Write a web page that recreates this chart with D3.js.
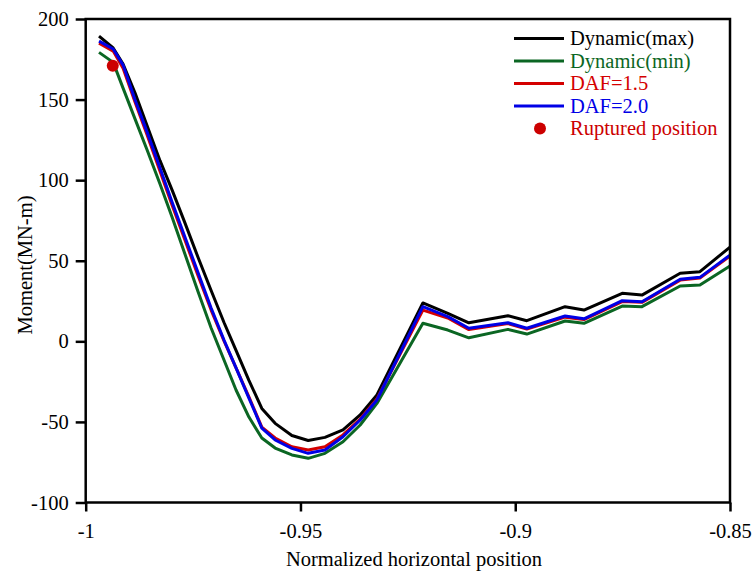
<!DOCTYPE html>
<html><head><meta charset="utf-8">
<script src="https://cdn.jsdelivr.net/npm/d3@7"></script>
<style>body{margin:0;background:#fff}svg{display:block}</style>
</head><body>
<svg id="c" width="755" height="574"></svg>
<script>
const positions = [-0.9969,-0.9936,-0.9913,-0.9885,-0.9857,-0.9827,-0.9799,-0.9769,-0.9739,-0.9708,-0.9678,-0.9650,-0.9620,-0.9590,-0.9559,-0.9520,-0.9482,-0.9443,-0.9401,-0.9361,-0.9322,-0.9215,-0.9157,-0.9108,-0.9017,-0.8973,-0.8884,-0.8840,-0.8751,-0.8705,-0.8616,-0.8570,-0.85];
const dynMax = [189.4,182.0,172.0,154.0,133.8,112.1,94.0,73.5,52.5,31.5,11.7,-5.6,-24.2,-41.6,-50.9,-58.4,-61.5,-59.6,-55.0,-45.7,-33.3,23.8,17.4,11.5,15.9,12.8,21.5,19.4,29.8,28.7,42.2,43.2,58.5];
const dynMin = [179.3,173.1,157.1,137.9,118.7,97.6,77.1,54.2,31.2,8.3,-11.6,-30.2,-47.0,-60.0,-66.2,-70.5,-72.6,-69.5,-62.3,-51.9,-38.5,11.2,7.0,2.2,7.4,4.5,12.6,11.2,21.9,21.5,34.3,34.9,46.7];
const daf15 = [185.0,180.1,169.5,148.4,128.0,105.6,84.6,62.9,41.1,19.4,0.2,-16.5,-34.5,-53.2,-60.0,-65.4,-67.4,-65.4,-58.1,-48.2,-35.8,19.4,14.5,7.3,11.0,7.6,15.0,13.5,24.7,24.2,38.0,39.3,52.9];
const daf20 = [186.3,181.4,171.4,149.7,129.8,107.5,86.4,64.7,43.0,20.7,0.8,-16.5,-35.2,-53.8,-61.2,-66.4,-69.5,-67.4,-59.2,-48.8,-36.4,21.5,15.3,8.1,11.5,8.1,15.7,14.0,25.2,24.6,38.5,39.7,53.5];
const rupture = [-0.9937, 171];
const xTicks = [-1,-0.95,-0.9,-0.85];
const xTickLabels = ["-1","-0.95","-0.9","-0.85"];
const yTicks = [-100,-50,0,50,100,150,200];
const yTickLabels = ["-100","-50","0","50","100","150","200"];
const seriesNames = ["Dynamic(max)","Dynamic(min)","DAF=1.5","DAF=2.0"];
const seriesColors = ["#000000","#0b6623","#d40000","#0000e6"];

const svg = d3.select("#c");
const L=85.7, R=730, T=19, B=502.5;
const x = d3.scaleLinear().domain([-1,-0.85]).range([L,R]);
const y = d3.scaleLinear().domain([-100,200]).range([B,T]);
const font = "'Liberation Serif','Times New Roman',serif";

// series
const data = [dynMax, dynMin, daf15, daf20];
const line = d3.line().x((d,i)=>x(positions[i])).y(d=>y(d));
const g = svg.append("g");
[1,0,2,3].forEach(k=>{
  g.append("path").datum(data[k]).attr("d",line)
   .attr("fill","none").attr("stroke",seriesColors[k]).attr("stroke-width",3)
   .attr("stroke-linejoin","round");
});
g.append("circle").attr("cx",x(rupture[0])).attr("cy",y(rupture[1])).attr("r",6).attr("fill","#cc0000");

// frame
svg.append("rect").attr("x",L).attr("y",T).attr("width",R-L).attr("height",B-T)
  .attr("fill","none").attr("stroke","#000").attr("stroke-width",2.5);

// axes
const xa = svg.append("g").attr("transform",`translate(0,${B})`)
  .call(d3.axisBottom(x).tickValues(xTicks).tickFormat((d,i)=>xTickLabels[i]).tickSize(9).tickPadding(12));
const ya = svg.append("g").attr("transform",`translate(${L},0)`)
  .call(d3.axisLeft(y).tickValues(yTicks).tickFormat((d,i)=>yTickLabels[i]).tickSize(10).tickPadding(7));
[xa,ya].forEach(a=>{
  a.attr("font-family",font).attr("font-size","20.5px");
  a.select(".domain").remove();
  a.selectAll("line").attr("stroke","#000").attr("stroke-width",2.5);
  a.selectAll("text").attr("font-family",font).attr("font-size","20.5px").attr("fill","#000");
});

svg.append("text").attr("x",414).attr("y",566).attr("text-anchor","middle")
  .attr("font-family",font).attr("font-size","20.5px").text("Normalized horizontal position");
svg.append("text").attr("transform","translate(32,265) rotate(-90)").attr("text-anchor","middle")
  .attr("font-family",font).attr("font-size","20.5px").text("Moment(MN-m)");

// legend
const lg = svg.append("g");
const rowY = [38.5,61,83.5,106];
seriesNames.forEach((n,i)=>{
  lg.append("line").attr("x1",514).attr("x2",564).attr("y1",rowY[i]).attr("y2",rowY[i])
    .attr("stroke",seriesColors[i]).attr("stroke-width",3);
  lg.append("text").attr("x",570).attr("y",rowY[i]+6.5).attr("font-family",font)
    .attr("font-size","20.5px").attr("fill",seriesColors[i]).text(n);
});
lg.append("circle").attr("cx",540).attr("cy",128.5).attr("r",6).attr("fill","#cc0000");
lg.append("text").attr("x",570).attr("y",135).attr("font-family",font)
  .attr("font-size","20.5px").attr("fill","#cc0000").text("Ruptured position");
</script>
</body></html>
